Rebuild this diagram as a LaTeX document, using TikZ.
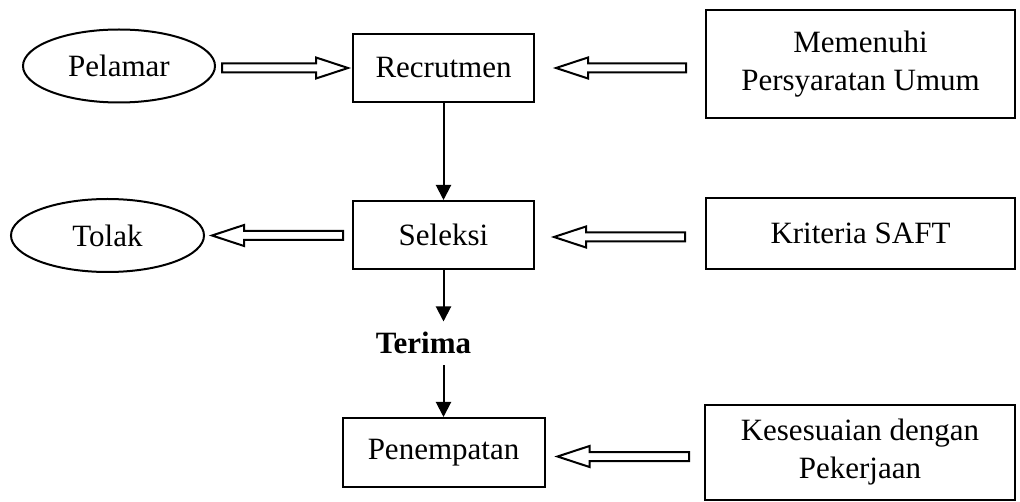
\documentclass[tikz,border=0pt]{standalone}
\usepackage{fontspec}
\setmainfont{Liberation Serif}
\usetikzlibrary{shapes.geometric,arrows.meta,calc}
\begin{document}
\begin{tikzpicture}[x=1pt,y=-1pt,
 every node/.style={font=\fontsize{31}{38}\selectfont, inner sep=0pt, line width=2pt},
 box/.style={draw, rectangle, align=center},
 oval/.style={draw, ellipse},
 flow/.style={line width=2pt, -{Triangle[width=15pt,length=15pt]}},
 hollow/.style={line width=2pt, line join=miter, to path={let \p1=(\tikztostart), \p2=(\tikztotarget), \n1={sign(\x2-\x1)} in (\x1,\y2+4.5pt) -- ({\x2-(\n1)*32pt},\y2+4.5pt) -- ({\x2-(\n1)*32pt},\y2+10.5pt) -- (\x2,\y2) -- ({\x2-(\n1)*32pt},\y2-10.5pt) -- ({\x2-(\n1)*32pt},\y2-4.5pt) -- (\x1,\y2-4.5pt) -- cycle}}
]
\useasboundingbox (0,0) rectangle (1020,502);
\node[oval, minimum width=192pt, minimum height=73pt] (pel) at (119,66) {Pelamar};
\node[box, minimum width=181pt, minimum height=68pt] (rec) at (443.5,68) {Recrutmen};
\node[box, minimum width=309pt, minimum height=108pt] (mem) at (860.5,64) {Memenuhi\\Persyaratan Umum};
\node[oval, minimum width=193pt, minimum height=73pt] (tol) at (107.5,235.5) {Tolak};
\node[box, minimum width=181pt, minimum height=68pt] (sel) at (443.5,235) {Seleksi};
\node[box, minimum width=309pt, minimum height=71pt] (kri) at (860.5,233.5) {Kriteria SAFT};
\node[font=\fontsize{31}{38}\selectfont\bfseries, text height=21pt, text depth=0pt] (ter) at (423.5,343) {Terima};
\node[box, minimum width=202pt, minimum height=69pt] (pen) at (443.5,452.5) {Penempatan};
\node[box, minimum width=310pt, minimum height=95pt] (kes) at (860,452.5) {Kesesuaian dengan\\Pekerjaan};
\draw[hollow] ($(pel.east)+(6,0)$) to ($(rec.west)+(-4,0)$);
\draw[hollow] ($(mem.west)+(-19,0)$) to ($(rec.east)+(21,0)$);
\draw[hollow] ($(sel.west)+(-9,0)$) to ($(tol.east)+(7,0)$);
\draw[hollow] ($(kri.west)+(-20,0)$) to ($(sel.east)+(19,2)$);
\draw[hollow] ($(kes.west)+(-15,0)$) to ($(pen.east)+(12,4)$);
\draw[flow] (rec.south) -- (sel.north);
\draw[flow] (sel.south) -- ($(sel.south |- ter.north)+(0,-10)$);
\draw[flow] ($(pen.north |- ter.south)+(0,11)$) -- (pen.north);
\end{tikzpicture}
\end{document}
